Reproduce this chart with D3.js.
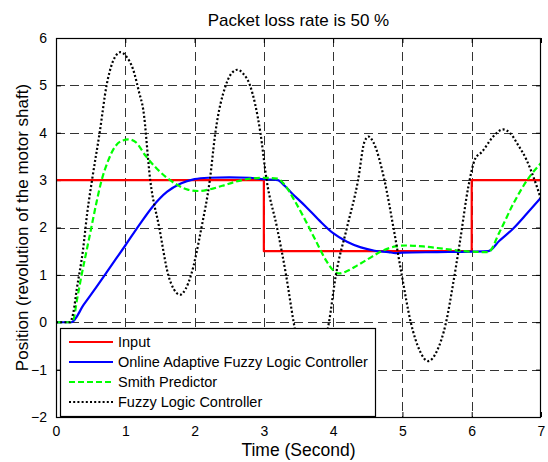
<!DOCTYPE html>
<html>
<head>
<meta charset="utf-8">
<script src="https://cdn.jsdelivr.net/npm/d3@7"></script>
<style>
  html, body { margin: 0; padding: 0; background: #fff; }
  svg { display: block; font-family: "Liberation Sans", Arial, Helvetica, sans-serif; }
</style>
</head>
<body>
<svg id="chart" width="548" height="462"></svg>
<script>
// ---- Data ----
const chartTitle = "Packet loss rate is 50 %";
const xLabel = "Time (Second)";
const yLabel = "Position (revolution of the motor shaft)";
const xTicks = [0, 1, 2, 3, 4, 5, 6, 7];
const yTicks = [-2, -1, 0, 1, 2, 3, 4, 5, 6];
const seriesNames = ["Input", "Online Adaptive Fuzzy Logic Controller", "Smith Predictor", "Fuzzy Logic Controller"];

const inputT = [0, 3, 3, 6, 6, 7];
const inputY = [3, 3, 1.5, 1.5, 3, 3];

const oaflcT = [0, 0.22, 0.4, 0.6, 0.8, 1.0, 1.2, 1.4, 1.6, 1.8, 2.0, 2.2, 2.5, 2.8, 3.0, 3.2, 3.3, 3.4, 3.6, 3.8, 4.0, 4.2, 4.4, 4.6, 4.8, 4.9, 5.0, 5.5, 6.0, 6.24, 6.4, 6.6, 6.8, 7.0];
const oaflcY = [0, 0, 0.37, 0.78, 1.2, 1.62, 2.05, 2.45, 2.75, 2.93, 3.02, 3.05, 3.06, 3.05, 3.02, 3.0, 2.88, 2.73, 2.45, 2.15, 1.88, 1.7, 1.58, 1.51, 1.48, 1.46, 1.47, 1.48, 1.49, 1.5, 1.72, 1.98, 2.3, 2.63];

const smithT = [0, 0.2, 0.25, 0.3, 0.37, 0.44, 0.51, 0.58, 0.65, 0.75, 0.85, 0.95, 1.05, 1.15, 1.3, 1.45, 1.6, 1.75, 1.9, 2.05, 2.2, 2.4, 2.6, 2.8, 3.0, 3.2, 3.3, 3.45, 3.6, 3.75, 3.9, 4.0, 4.08, 4.2, 4.35, 4.5, 4.7, 4.9, 5.05, 5.3, 5.6, 5.9, 6.24, 6.4, 6.6, 6.8, 7.0];
const smithY = [0, 0, 0.05, 0.45, 1.0, 1.5, 2.0, 2.5, 2.95, 3.4, 3.7, 3.83, 3.86, 3.8, 3.5, 3.25, 3.05, 2.9, 2.8, 2.77, 2.8, 2.88, 2.97, 3.03, 3.05, 3.03, 2.9, 2.55, 2.15, 1.72, 1.3, 1.1, 1.03, 1.08, 1.2, 1.33, 1.5, 1.6, 1.62, 1.6, 1.55, 1.5, 1.48, 1.9, 2.5, 3.0, 3.36];

const flcT = [0, 0.2, 0.25, 0.3, 0.39, 0.45, 0.52, 0.63, 0.73, 0.82, 0.93, 1.02, 1.11, 1.2, 1.26, 1.36, 1.49, 1.62, 1.7, 1.79, 1.87, 1.95, 2.1, 2.22, 2.3, 2.45, 2.55, 2.62, 2.7, 2.8, 2.95, 3.04, 3.19, 3.32, 3.43, 3.55, 3.68, 3.8, 3.94, 4.04, 4.2, 4.36, 4.45, 4.51, 4.58, 4.74, 4.87, 4.99, 5.12, 5.25, 5.37, 5.5, 5.63, 5.73, 5.83, 5.95, 6.05, 6.15, 6.31, 6.45, 6.55, 6.67, 6.79, 6.89, 7.0];
const flcY = [0, 0, 0.2, 0.7, 1.53, 2.3, 3.0, 4.0, 5.0, 5.5, 5.7, 5.6, 5.35, 4.85, 4.48, 3.0, 2.0, 1.0, 0.7, 0.58, 0.7, 1.0, 2.0, 3.0, 4.0, 5.0, 5.28, 5.33, 5.25, 5.0, 4.0, 3.0, 2.0, 1.0, 0.0, -0.9, -1.3, -0.9, 0.0, 1.0, 2.0, 3.0, 3.8, 3.92, 3.8, 3.0, 2.0, 1.0, 0.0, -0.6, -0.82, -0.6, 0.0, 0.8, 1.7, 2.85, 3.45, 3.6, 3.92, 4.07, 4.0, 3.74, 3.43, 3.07, 2.6];

// ---- Layout ----
const svg = d3.select("#chart");
const margin = { left: 56, right: 7, top: 38, bottom: 45 };
const W = 548, H = 462;
const x = d3.scaleLinear().domain([0, 7]).range([margin.left, W - margin.right]);
const y = d3.scaleLinear().domain([-2, 6]).range([H - margin.bottom, margin.top]);
const x0 = x.range()[0], x1 = x.range()[1], y0 = y.range()[1], y1 = y.range()[0];

svg.append("rect").attr("x", 0).attr("y", 0).attr("width", W).attr("height", H).attr("fill", "#fff");
svg.append("rect").attr("x", x0).attr("y", y0).attr("width", x1 - x0).attr("height", y1 - y0).attr("fill", "#fff");

svg.append("defs").append("clipPath").attr("id", "clip")
  .append("rect").attr("x", x0).attr("y", y0).attr("width", x1 - x0).attr("height", y1 - y0);

// Grid
const grid = svg.append("g").attr("stroke", "#000").attr("stroke-width", 0.8).attr("stroke-dasharray", "9,5");
grid.selectAll("line.vx").data(xTicks.slice(1, -1)).join("line")
  .attr("x1", d => Math.round(x(d)) + 0.5).attr("x2", d => Math.round(x(d)) + 0.5)
  .attr("y1", y0).attr("y2", y1);
grid.selectAll("line.hy").data(yTicks.slice(1, -1)).join("line")
  .attr("y1", d => Math.round(y(d)) + 0.5).attr("y2", d => Math.round(y(d)) + 0.5)
  .attr("x1", x0).attr("x2", x1);

// Axes
const fmt = d3.format("d");
const axB = svg.append("g").attr("transform", `translate(0,${y1})`)
  .call(d3.axisBottom(x).tickValues(xTicks).tickFormat(fmt).tickSizeInner(-5).tickSizeOuter(0).tickPadding(9));
const axL = svg.append("g").attr("transform", `translate(${x0},0)`)
  .call(d3.axisLeft(y).tickValues(yTicks).tickFormat(fmt).tickSizeInner(-5).tickSizeOuter(0).tickPadding(9));
const axT = svg.append("g").attr("transform", `translate(0,${y0})`)
  .call(d3.axisTop(x).tickValues(xTicks).tickFormat("").tickSizeInner(-5).tickSizeOuter(0));
const axR = svg.append("g").attr("transform", `translate(${x1},0)`)
  .call(d3.axisRight(y).tickValues(yTicks).tickFormat("").tickSizeInner(-5).tickSizeOuter(0));
[axB, axL, axT, axR].forEach(a => {
  a.select(".domain").remove();
  a.selectAll("text").attr("font-size", 14).attr("fill", "#000")
    .attr("font-family", '"Liberation Sans", Arial, sans-serif');
});

// Lines
const zip = (ts, ys) => ts.map((t, i) => [t, ys[i]]);
const series = [
  { name: seriesNames[0], data: zip(inputT, inputY), color: "#ff0000", dash: null, curve: d3.curveLinear },
  { name: seriesNames[1], data: zip(oaflcT, oaflcY), color: "#0000ff", dash: null, curve: d3.curveMonotoneX },
  { name: seriesNames[2], data: zip(smithT, smithY), color: "#00ff00", dash: "6,3", curve: d3.curveMonotoneX },
  { name: seriesNames[3], data: zip(flcT, flcY), color: "#000000", dash: "2,2.2", curve: d3.curveMonotoneX }
];
const lines = svg.append("g").attr("clip-path", "url(#clip)");
series.forEach(s => {
  const ln = d3.line().x(d => x(d[0])).y(d => y(d[1])).curve(s.curve);
  lines.append("path").datum(s.data)
    .attr("d", ln)
    .attr("fill", "none").attr("stroke", s.color).attr("stroke-width", 2.2)
    .attr("stroke-dasharray", s.dash).attr("stroke-linejoin", "round");
});

// Box
svg.append("rect").attr("x", x0 + 0.5).attr("y", y0 + 0.5).attr("width", x1 - x0 - 1).attr("height", y1 - y0)
  .attr("fill", "none").attr("stroke", "#000").attr("stroke-width", 1.2);

// Legend
const lg = svg.append("g");
const lgX = 60, lgY = 328, lgW = 315, lgH = 88;
lg.append("rect").attr("x", lgX + 0.5).attr("y", lgY + 0.5).attr("width", lgW).attr("height", lgH)
  .attr("fill", "#fff").attr("stroke", "#000").attr("stroke-width", 1.2);
series.forEach((s, i) => {
  const cy = lgY + 14 + i * 20;
  lg.append("line").attr("x1", lgX + 9).attr("x2", lgX + 53).attr("y1", cy).attr("y2", cy)
    .attr("stroke", s.color).attr("stroke-width", 2.2).attr("stroke-dasharray", s.dash);
  lg.append("text").attr("x", lgX + 58).attr("y", cy + 5).attr("font-size", 14.5).attr("fill", "#000").text(s.name);
});

// Titles
svg.append("text").attr("x", (x0 + x1) / 2).attr("y", 26).attr("text-anchor", "middle")
  .attr("font-size", 17).attr("fill", "#000").text(chartTitle);
svg.append("text").attr("x", (x0 + x1) / 2).attr("y", 456).attr("text-anchor", "middle")
  .attr("font-size", 17.5).attr("fill", "#000").text(xLabel);
svg.append("text").attr("transform", `translate(28,${(y0 + y1) / 2}) rotate(-90)`).attr("text-anchor", "middle")
  .attr("font-size", 17).attr("fill", "#000").text(yLabel);
</script>
</body>
</html>
